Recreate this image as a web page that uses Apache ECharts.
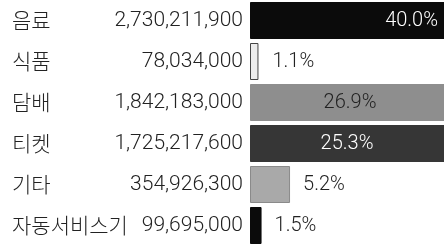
<!DOCTYPE html>
<html>
<head>
<meta charset="utf-8">
<script src="https://cdn.jsdelivr.net/npm/echarts@6/dist/echarts.min.js"></script>
<style>
  html, body { margin: 0; padding: 0; background: #fff; }
  #main { width: 444px; height: 246px; }
</style>
</head>
<body>
<div id="main"></div>
<script>
// 매출 구성
var categories = ['음료', '식품', '담배', '티켓', '기타', '자동서비스기'];
var amounts = [2730211900, 78034000, 1842183000, 1725217600, 354926300, 99695000];
var shares = [40.0, 1.1, 26.9, 25.3, 5.2, 1.5];

var barColors = ['#0b0b0b', '#ececec', '#8e8e8e', '#363636', '#a9a9a9', '#0b0b0b'];
var borderColors = ['#0b0b0b', '#444', '#8e8e8e', '#363636', '#8a8a8a', '#0b0b0b'];
// label placement for each bar
var labelCfg = [
  { position: [188, '50%'], align: 'right', color: '#fff' },
  { position: 'right', distance: 14, color: '#222' },
  { position: [100, '50%'], align: 'center', color: '#222' },
  { position: [97, '50%'], align: 'center', color: '#fff' },
  { position: 'right', distance: 13, color: '#222' },
  { position: 'right', distance: 13, color: '#222' }
];

var chart = echarts.init(document.getElementById('main'));

var data = shares.map(function (s, i) {
  return {
    value: s,
    itemStyle: { color: barColors[i], borderColor: borderColors[i], borderWidth: 1 },
    label: Object.assign({ verticalAlign: 'middle' }, labelCfg[i])
  };
});

var option = {
  animation: false,
  grid: { left: 250, right: 0, top: -3, height: 249 },
  xAxis: {
    type: 'value',
    min: 0,
    max: 25.2,
    show: false
  },
  yAxis: {
    type: 'category',
    inverse: true,
    data: categories,
    axisLine: { show: false },
    axisTick: { show: false },
    axisLabel: {
      margin: 7,
      formatter: function (v, i) {
        return '{n|' + v + '}{v|' + amounts[i].toLocaleString('en-US') + '}';
      },
      rich: {
        n: { width: 100, align: 'left', fontSize: 21, fontWeight: 300, color: '#222', fontFamily: 'Noto Sans CJK KR' },
        v: { width: 131, align: 'right', fontSize: 21, fontWeight: 300, color: '#222', fontFamily: 'Roboto' }
      }
    }
  },
  series: [
    {
      type: 'bar',
      barWidth: 37,
      clip: true,
      data: data,
      label: {
        show: true,
        fontSize: 20,
        fontWeight: 300,
        fontFamily: 'Roboto',
        formatter: function (p) { return p.value.toFixed(1) + '%'; }
      }
    }
  ]
};

chart.setOption(option);
</script>
</body>
</html>
